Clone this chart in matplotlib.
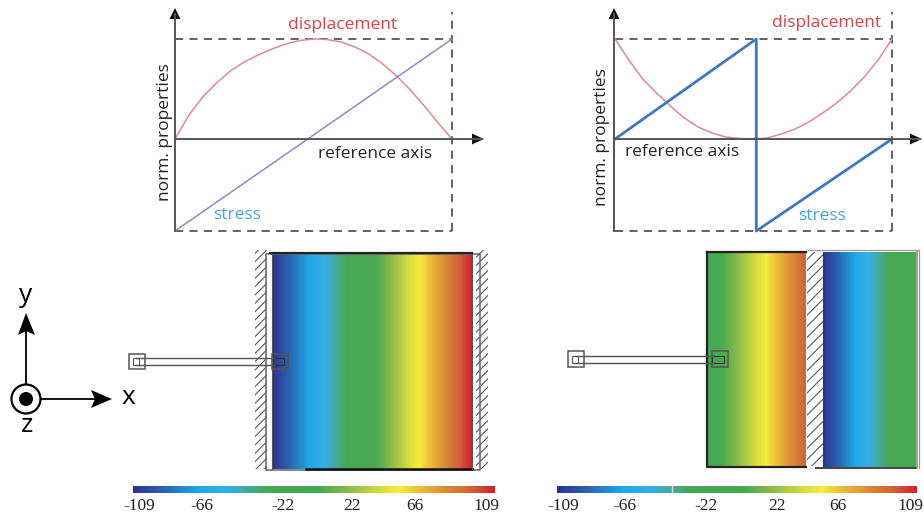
import numpy as np
import matplotlib
matplotlib.use("Agg")
import matplotlib.pyplot as plt
from matplotlib.colors import LinearSegmentedColormap
from matplotlib.patches import Rectangle, Circle, Polygon

W, H = 924, 517
plt.rcParams['font.family'] = 'Open Sans'
plt.rcParams['hatch.linewidth'] = 0.8

# ---- data
disp_x = [0, .05, .10, .15, .20, .25, .30, .35, .40, .45, .50, .55, .60, .65, .70, .75, .80, .85, .90, .95, 1]
disp_left_y = [0, .24, .42, .56, .68, .77, .84, .90, .95, .985, 1, .995, .97, .92, .85, .75, .63, .49, .33, .16, 0]
stress_left_x = [0, 1]
stress_left_y = [-.92, 1]

disp_right_y = [1, .79, .60, .46, .33, .21, .12, .06, .02, .005, 0, .01, .05, .10, .17, .26, .36, .48, .62, .79, 1]
stress_right_x = [0, .51, .51, 1]
stress_right_y = [0, 1, -.92, 0]

color_pos = [0, .08, .18, .26, .33, .37, .52, .60, .68, .74, .78, .87, .94, 1]
color_hex = ['#2e3192', '#2b62ae', '#1fa9e6', '#36aee6', '#48a88a', '#47a855', '#48a852',
             '#8cbb4a', '#d0da42', '#f7ec3b', '#f0c83a', '#d98a35', '#d0603a', '#d2232a']
cmap = LinearSegmentedColormap.from_list('stress', list(zip(color_pos, color_hex)))

field_left = [-109, -66, -22, 22, 66, 109]
field_right_a = [-12, 24, 59, 95]
field_right_b = [-109, -71, -32, 6]

ticks_labels = ['-109', '-66', '-22', '22', '66', '109']
ticks_left_px = [139, 202, 283, 352, 415, 486]
ticks_right_px = [563, 625, 706, 777, 838, 910]

RED = '#e08a8e'
RED_T = '#d8444c'
BLUE_THIN = '#7f8fc8'
BLUE_THICK = '#3f78bb'
BLUE_T = '#45a5dc'
DASH = '#555555'
AX = '#555555'

fig = plt.figure(figsize=(W / 100, H / 100), dpi=100)


def px_axes(x0, x1, ytop, ybot, z=1):
    a = fig.add_axes([x0 / W, 1 - ybot / H, (x1 - x0) / W, (ybot - ytop) / H], zorder=z)
    a.axis('off')
    return a


def chart(x0, x1, dy, sx, sy, slw, scol):
    # y: +1 -> 39 px, 0 -> 139 px, -0.92 -> 231 px
    a = px_axes(x0, x1, 39, 231, 2)
    a.set_xlim(0, 1)
    a.set_ylim(-.92, 1)
    dash = dict(color=DASH, lw=1.3, dashes=(4.5, 3.5), clip_on=False)
    a.plot([0, 1], [1, 1], **dash)
    a.plot([0, 1], [-.92, -.92], **dash)
    a.plot([1, 1], [-.92, 1.27], **dash)
    a.plot(disp_x, dy, color=RED, lw=1.1, clip_on=False)
    a.plot(sx, sy, color=scol, lw=slw, clip_on=False)
    return a


ov = fig.add_axes([0, 0, 1, 1], zorder=3)
ov.set_xlim(0, W)
ov.set_ylim(H, 0)
ov.axis('off')
ov.patch.set_alpha(0)


def axes_lines(x0, xa, yb):
    ov.plot([x0, x0], [yb, 14], color=AX, lw=1.4)
    ov.plot([x0, xa], [139, 139], color=AX, lw=1.4)
    ov.add_patch(Polygon([[x0 - 5.5, 19], [x0 + 5.5, 19], [x0, 8]], color='#111111', lw=0))
    ov.add_patch(Polygon([[xa - 10, 133.5], [xa - 10, 144.5], [xa + 2, 139]], color='#111111', lw=0))


chart(175, 452, disp_left_y, stress_left_x, stress_left_y, 1.1, BLUE_THIN)
chart(615, 892, disp_right_y, stress_right_x, stress_right_y, 2.0, BLUE_THICK)
axes_lines(175, 482, 231)
axes_lines(614, 920, 231)


def label(x, y, s, c='#222222', size=12.5, **k):
    ov.text(x, y, s, color=c, fontsize=size, ha='center', va='center', **k)


label(343, 25, 'displacement', RED_T)
label(375, 154, 'reference axis')
label(237, 215, 'stress', BLUE_T)
label(165, 132, 'norm. properties', rotation=90)
label(827, 23, 'displacement', RED_T)
label(682, 152, 'reference axis')
label(822, 216, 'stress', BLUE_T)
label(602, 137, 'norm. properties', rotation=90)


def gradient(vals, x0, x1, yt, yb):
    a = px_axes(x0, x1, yt, yb, 1)
    n = len(vals)
    a.imshow([vals], cmap=cmap, vmin=-109, vmax=109, aspect='auto', interpolation='bilinear',
             interpolation_stage='data', extent=(-.5, n - .5, 0, 1))
    a.set_xlim(0, n - 1)
    a.set_ylim(0, 1)
    return a


gradient(field_left, 272, 472, 253, 469)
gradient(field_right_a, 707, 806, 252, 467)
gradient(field_right_b, 823, 916, 252, 467)
gradient(field_left, 133, 494, 486, 493)
gradient(field_left, 557, 917, 486, 493)

GRAY = '#666666'


def hatch(x0, y0, x1, y1, h):
    ov.add_patch(Rectangle((x0, y0), x1 - x0, y1 - y0, facecolor='none', edgecolor='#555555', hatch=h, lw=0))


hatch(255, 250, 267, 469, '////')
hatch(476, 250, 488, 469, '////')
hatch(807, 252, 823, 466, '///')

# left plate outline
ov.add_patch(Rectangle((266, 254), 214, 216, fill=False, edgecolor=GRAY, lw=1.1))
ov.plot([270, 472], [253, 253], color='#222222', lw=1.6)
ov.plot([306, 472], [469, 469], color='#111111', lw=1.8)
ov.plot([272, 272], [254, 469], color='#555555', lw=.8)
ov.plot([472, 472], [254, 469], color='#555555', lw=.8)

# right plate outline
ov.plot([707, 707, 806], [252, 467, 467], color='#222222', lw=1.6)
ov.plot([707, 806], [252, 252], color='#222222', lw=1.6)
ov.plot([816, 916], [468, 468], color='#444444', lw=1.4)
ov.plot([917, 917], [251, 468], color='#888888', lw=1.1)
ov.plot([919, 919, 808], [468, 250, 250], color='#999999', lw=.9)
ov.plot([672, 672], [486, 493], color='#dddddd', lw=1)


def tether(x1, pad0, pad1, yc, hp, hb):
    ov.plot([pad0 + 7, x1], [yc - hb, yc - hb], color='#555555', lw=1.0)
    ov.plot([pad0 + 7, x1], [yc + hb, yc + hb], color='#555555', lw=1.0)
    for p in (pad0, pad1):
        ov.add_patch(Rectangle((p, yc - hp), 15.5, 2 * hp, fill=False, edgecolor='#555555', lw=1.1))
    ov.add_patch(Rectangle((pad0 + 4, yc - hb), 6, 2 * hb, fill=False, edgecolor='#555555', lw=.8))
    ov.add_patch(Rectangle((pad1 + 0, yc - hb), 12, 2 * hb, fill=False, edgecolor='#333333', lw=.8))


tether(274, 129, 272, 361.5, 7.5, 3.5)
tether(714, 568, 712, 359, 8, 3.5)

# triad
ov.plot([26, 26], [384, 325], color='k', lw=1.3)
ov.add_patch(Polygon([[18, 335], [26, 313], [35, 335], [26, 331]], color='k', lw=0))
ov.plot([41, 100], [399, 399], color='k', lw=1.3)
ov.add_patch(Polygon([[91, 390], [112, 399], [91, 408], [95, 399]], color='k', lw=0))
ov.add_patch(Circle((26, 399), 14.5, fill=False, edgecolor='k', lw=1.6))
ov.add_patch(Circle((26, 399), 7, color='k', lw=0))
label(26, 296, 'y', 'k', 19)
label(128, 397, 'x', 'k', 19)
label(27, 426, 'z', 'k', 19)

for xs in (ticks_left_px, ticks_right_px):
    for x, s in zip(xs, ticks_labels):
        ov.text(x, 506, s, fontsize=12.5, family='Liberation Serif', ha='center', va='center', color='#222222')

fig.savefig('out.png', dpi=100)
